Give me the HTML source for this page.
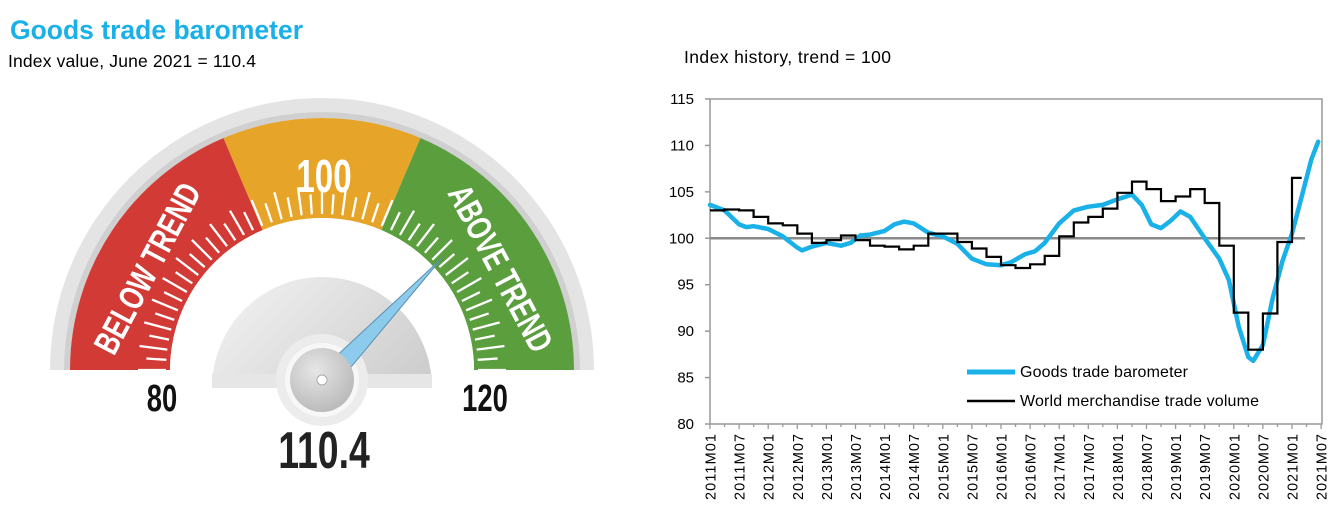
<!DOCTYPE html>
<html><head><meta charset="utf-8"><style>
body{margin:0;background:#fff;width:1339px;height:513px;overflow:hidden;font-family:"Liberation Sans",sans-serif}
</style></head><body>
<svg id="s" width="1339" height="513" viewBox="0 0 1339 513" xmlns="http://www.w3.org/2000/svg" style="position:absolute;left:0;top:0">
<defs>
<linearGradient id="gg" x1="0" y1="0" x2="1" y2="1"><stop offset="0" stop-color="#f4f4f4"/><stop offset="0.5" stop-color="#d8d8d8"/><stop offset="1" stop-color="#bdbdbd"/></linearGradient>
<radialGradient id="hg" cx="0.4" cy="0.35" r="0.7"><stop offset="0" stop-color="#e6e6e6"/><stop offset="1" stop-color="#b8b8b8"/></radialGradient>
<clipPath id="cl"><rect x="0" y="0" width="700" height="374"/></clipPath>
</defs>
<text x="10" y="39" font-size="26.5" font-weight="bold" fill="#1ab0e8">Goods trade barometer</text>
<text x="8" y="67" font-size="17.5" fill="#000" textLength="248">Index value, June 2021 = 110.4</text>
<text x="684" y="63" font-size="17.5" fill="#000" textLength="207">Index history, trend = 100</text>
<g id="gauge"></g>
<text transform="translate(158,274) rotate(-62) scale(0.72,1)" text-anchor="middle" font-size="35" font-weight="bold" fill="#fff">BELOW TREND</text>
<text transform="translate(490,274) rotate(62) scale(0.72,1)" text-anchor="middle" font-size="35" font-weight="bold" fill="#fff">ABOVE TREND</text>
<text transform="translate(324,192) scale(0.72,1)" text-anchor="middle" font-size="46" font-weight="bold" fill="#fff">100</text>
<text transform="translate(162,411) scale(0.72,1)" text-anchor="middle" font-size="38" font-weight="bold" fill="#111">80</text>
<text transform="translate(485,411) scale(0.72,1)" text-anchor="middle" font-size="38" font-weight="bold" fill="#111">120</text>
<text transform="translate(324,468) scale(0.72,1)" text-anchor="middle" font-size="52" font-weight="bold" fill="#222">110.4</text>
<g id="chart"></g>
<g font-size="16" fill="#000">
<text x="1020" y="377" textLength="168">Goods trade barometer</text>
<text x="1020" y="406" textLength="239">World merchandise trade volume</text>
</g>
</svg>
<script>
const NS="http://www.w3.org/2000/svg";
function el(p,t,a){const e=document.createElementNS(NS,t);for(const k in a)e.setAttribute(k,a[k]);p.appendChild(e);return e;}
const g=document.getElementById('gauge');
const cx=322,cy=370;
function P(r,deg){const a=deg*Math.PI/180;return [cx+r*Math.cos(a),cy-r*Math.sin(a)];}
function sector(r1,r2,a1,a2,fill){const p1=P(r2,a1),p2=P(r2,a2),p3=P(r1,a2),p4=P(r1,a1);
el(g,'path',{d:`M${p1}A${r2},${r2} 0 0 1 ${p2}L${p3}A${r1},${r1} 0 0 0 ${p4}Z`,fill:fill});}
sector(252,272,180,0,'#e4e4e4');
sector(252,258,180,0,'#d0d0d0');
sector(152,252,180,113,'#d23a36');
sector(152,252,113,67,'#e6a428');
sector(152,252,67,0,'#5a9e3e');
sector(0,152,180,0,'#fff');
for(let i=0;i<=48;i++){const d=180-i*3.75;const r2=(i%2==0)?184:176;const a=P(156,d),b=P(r2,d);
el(g,'line',{x1:a[0],y1:a[1],x2:b[0],y2:b[1],stroke:'#fff','stroke-width':2.3});}
el(g,'rect',{x:40,y:370,width:580,height:10,fill:'#fff'});
const gc=el(g,'g',{'clip-path':'url(#cl)'});
el(gc,'ellipse',{cx:cx,cy:388,rx:110,ry:111,fill:'url(#gg)'});
el(g,'rect',{x:cx-110,y:374,width:220,height:14,fill:'#e6e6e6'});
el(g,'circle',{cx:cx,cy:380,r:46,fill:'#ececec'});
el(g,'circle',{cx:cx,cy:380,r:37,fill:'#f7f7f7'});
el(g,'polygon',{points:`${cx-6},${375} ${442},${258} ${cx+14},${385}`,fill:'#8ccbec',stroke:'#5a8fb0','stroke-width':1});
el(g,'circle',{cx:cx,cy:380,r:32,fill:'url(#hg)'});
el(g,'circle',{cx:cx,cy:380,r:5,fill:'#fff',stroke:'#aaa'});
const c=document.getElementById('chart');
const X=m=>710+4.85*m, Y=v=>424-(v-80)*9.286;
el(c,'rect',{x:710,y:99,width:612,height:325,fill:'none',stroke:'#999','stroke-width':1.5});
for(let v=80;v<=115;v+=5){el(c,'line',{x1:705,y1:Y(v),x2:710,y2:Y(v),stroke:'#999','stroke-width':1.5});
const t=el(c,'text',{x:694,y:Y(v)+5,'text-anchor':'end','font-size':15});t.textContent=v;}
for(let m=0;m<=126;m+=3){el(c,'line',{x1:X(m),y1:424,x2:X(m),y2:(m%6==0)?429:427,stroke:'#999','stroke-width':1.3});}
for(let k=0;k<=21;k++){const yr=2011+Math.floor(k/2),lab=yr+(k%2?'M07':'M01');
const t=el(c,'text',{transform:`translate(${X(k*6)+5.5},434) rotate(-90)`,'text-anchor':'end','font-size':14.5,textLength:66});t.textContent=lab;}
el(c,'line',{x1:710,y1:Y(100),x2:1305,y2:Y(100),stroke:'#8a8a8a','stroke-width':2.5});
const B=[[0,103.6],[3,103],[6,101.5],[7.5,101.2],[9,101.3],[12,101.0],[15,100.2],[18,99],[19,98.7],[21,99.1],[24,99.5],[27,99.2],[29,99.5],[31,100.3],[33,100.4],[36,100.8],[38,101.5],[40,101.8],[42,101.6],[45,100.6],[48,100.2],[51,99.4],[54,97.8],[57,97.2],[60,97.1],[62,97.4],[65,98.3],[67,98.6],[69,99.5],[72,101.6],[75,103.0],[78,103.4],[81,103.6],[84,104.2],[87,104.7],[89,103.6],[91,101.5],[93,101.1],[95,101.9],[97,102.9],[99,102.3],[102,100],[105,97.8],[107,95.5],[109,90.5],[111,87.2],[112,86.8],[114,88.5],[116,93.5],[118,97.5],[120,100.5],[122,104.5],[124,108.5],[125.4,110.4]];
let d='';B.forEach((p,i)=>{d+=(i?'L':'M')+X(p[0]).toFixed(1)+','+Y(p[1]).toFixed(1);});
el(c,'path',{d:d,fill:'none',stroke:'#1ab0e8','stroke-width':4.5,'stroke-linejoin':'round','stroke-linecap':'round'});
const Q=[103.0,103.1,103.0,102.3,101.6,101.4,100.5,99.5,99.8,100.3,99.8,99.2,99.1,98.8,99.2,100.5,100.5,99.6,98.9,98.0,97.1,96.8,97.2,98.1,100.2,101.7,102.3,103.2,104.9,106.1,105.3,104.0,104.5,105.3,103.8,99.2,92.0,88.0,91.9,99.6,106.5];
d='';Q.forEach((v,i)=>{const x1=X(i*3),x2=X(Math.min(i*3+3,122));d+=(i?'L':'M')+x1.toFixed(1)+','+Y(v).toFixed(1)+'L'+x2.toFixed(1)+','+Y(v).toFixed(1);});
el(c,'path',{d:d,fill:'none',stroke:'#000','stroke-width':2.2});
el(c,'line',{x1:967,y1:372,x2:1015,y2:372,stroke:'#1ab0e8','stroke-width':5});
el(c,'line',{x1:967,y1:401,x2:1015,y2:401,stroke:'#000','stroke-width':2.5});
</script>
</body></html>
